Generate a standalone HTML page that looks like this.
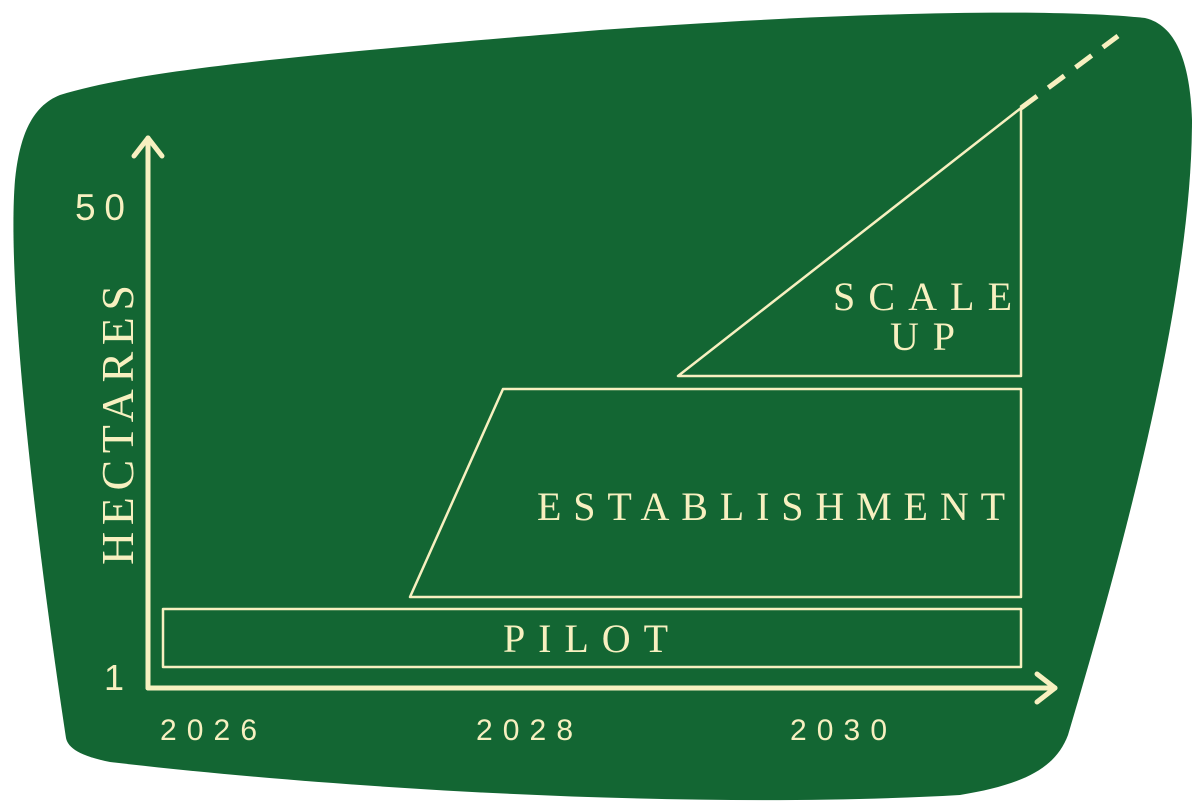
<!DOCTYPE html>
<html><head><meta charset="utf-8"><style>
html,body{margin:0;padding:0;background:#fff;}
svg{display:block;}
.s{font-family:"Liberation Serif",serif;fill:#f7f0c0;}
.n{font-family:"Liberation Sans",sans-serif;fill:#f7f0c0;}
</style></head><body>
<svg width="1200" height="806" viewBox="0 0 1200 806">
<path d="M60,95 C140,70 300,55 600,30 C850,12 1050,8 1145,18 C1175,25 1190,60 1192,120 C1192,300 1120,560 1068,735 C1055,770 1020,785 960,795 C700,810 350,790 110,762 C80,756 68,748 66,738 C45,600 5,300 15,180 C20,130 35,105 60,95 Z" fill="#136633"/>
<g stroke="#f7f0c0" fill="none" stroke-linecap="round" stroke-linejoin="round">
<line x1="148" y1="138" x2="148" y2="688" stroke-width="5"/>
<polyline points="134,156 148,138 162,156" stroke-width="5"/>
<line x1="148" y1="688" x2="1055" y2="688" stroke-width="5"/>
<polyline points="1037,674 1055,688 1037,702" stroke-width="5"/>
<rect x="163" y="609" width="858" height="58" stroke-width="2.5"/>
<polygon points="503,389 1021,389 1021,597 410,597" stroke-width="2.5"/>
<polygon points="678,376 1021,376 1021,108" stroke-width="2.5"/>
<line x1="1021" y1="108" x2="1118" y2="36" stroke-width="5" stroke-dasharray="20,14" stroke-linecap="butt"/>
</g>
<text class="s" x="0" y="0" font-size="46" textLength="280" lengthAdjust="spacing" text-anchor="middle" transform="translate(133,425) rotate(-90)">HECTARES</text>
<text class="n" x="75" y="220" font-size="37" textLength="50" lengthAdjust="spacing">50</text>
<text class="n" x="104" y="690" font-size="36">1</text>
<text class="n" x="160" y="740" font-size="30" textLength="97" lengthAdjust="spacing">2026</text>
<text class="n" x="476" y="740" font-size="30" textLength="97" lengthAdjust="spacing">2028</text>
<text class="n" x="790" y="740" font-size="30" textLength="97" lengthAdjust="spacing">2030</text>
<text class="s" x="833" y="310" font-size="40" textLength="179" lengthAdjust="spacing">SCALE</text>
<text class="s" x="890" y="350" font-size="40" textLength="65" lengthAdjust="spacing">UP</text>
<text class="s" x="537" y="520" font-size="40" textLength="468" lengthAdjust="spacing">ESTABLISHMENT</text>
<text class="s" x="503" y="652" font-size="40" textLength="165" lengthAdjust="spacing">PILOT</text>
</svg>
</body></html>
